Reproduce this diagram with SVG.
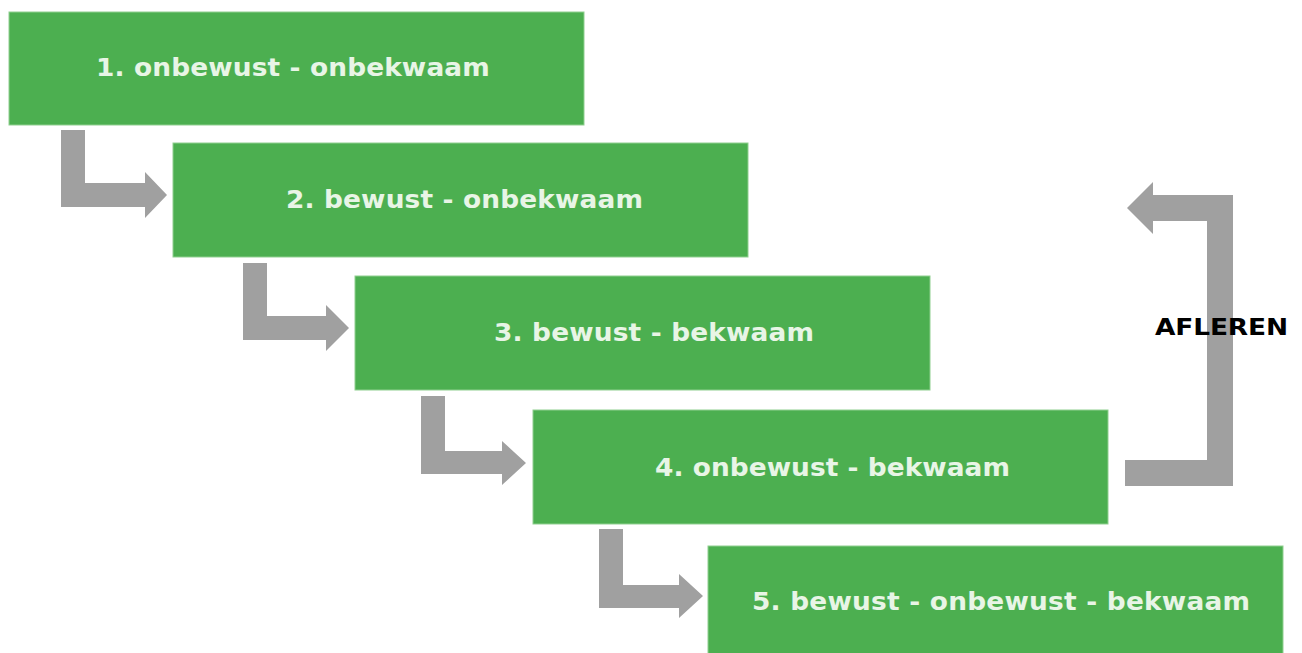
<svg xmlns="http://www.w3.org/2000/svg" width="1302" height="653" viewBox="0 0 1302 653">
<style>
.box{fill:#4caf50;stroke:#8fcf8f;stroke-width:1}
.lbl{font-family:"DejaVu Sans","Liberation Sans",sans-serif;font-weight:bold;font-size:24px;fill:#e8f5e6}
.arr{fill:#a0a0a0}
.cap{font-family:"DejaVu Sans","Liberation Sans",sans-serif;font-weight:bold;font-size:23px;fill:#000}
</style>
<rect width="1302" height="653" fill="#ffffff"/>
<g id="connectors">
<polygon class="arr" points="61,130 85,130 85,183 145,183 145,172 167,195 145,218 145,207 61,207"/>
<polygon class="arr" points="243,263 267,263 267,316 326,316 326,305 349,328 326,351 326,340 243,340"/>
<polygon class="arr" points="421,396 445,396 445,451 502,451 502,441 526,463 502,485 502,474 421,474"/>
<polygon class="arr" points="599,529 623,529 623,585 679,585 679,574 703,596 679,618 679,608 599,608"/>
<polygon class="arr" points="1125,460 1207,460 1207,221 1153,221 1153,234 1127,208 1153,182 1153,195 1233,195 1233,486 1125,486"/>
<text class="cap" transform="translate(1155,335) scale(1.15,1)" x="0" y="0" textLength="115.7" lengthAdjust="spacing">AFLEREN</text>
</g>
<g id="node1">
<rect class="box" x="9" y="12" width="575" height="113"/>
<text class="lbl" transform="translate(96,76) scale(1.1,1)" x="0" y="0" textLength="358" lengthAdjust="spacing">1. onbewust - onbekwaam</text>
</g>
<g id="node2">
<rect class="box" x="173" y="143" width="575" height="114"/>
<text class="lbl" transform="translate(286,208) scale(1.1,1)" x="0" y="0" textLength="324.5" lengthAdjust="spacing">2. bewust - onbekwaam</text>
</g>
<g id="node3">
<rect class="box" x="355" y="276" width="575" height="114"/>
<text class="lbl" transform="translate(494,341) scale(1.1,1)" x="0" y="0" textLength="291" lengthAdjust="spacing">3. bewust - bekwaam</text>
</g>
<g id="node4">
<rect class="box" x="533" y="410" width="575" height="114"/>
<text class="lbl" transform="translate(655,476) scale(1.1,1)" x="0" y="0" textLength="322.7" lengthAdjust="spacing">4. onbewust - bekwaam</text>
</g>
<g id="node5">
<rect class="box" x="708" y="546" width="575" height="110"/>
<text class="lbl" transform="translate(752,610) scale(1.1,1)" x="0" y="0" textLength="452.7" lengthAdjust="spacing">5. bewust - onbewust - bekwaam</text>
</g>
</svg>
